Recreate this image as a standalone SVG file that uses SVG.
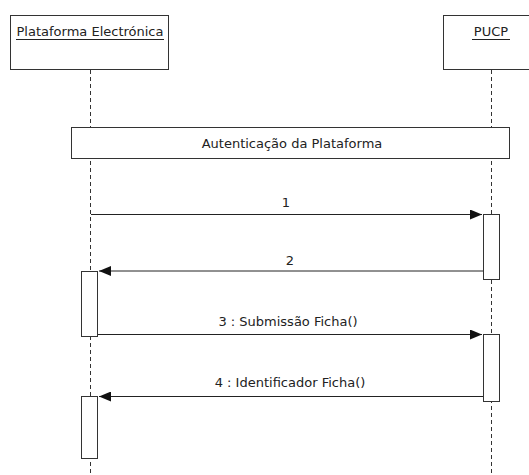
<svg xmlns="http://www.w3.org/2000/svg" width="529" height="475" viewBox="0 0 529 475">
<style>
.box{fill:#fff;stroke:#333;stroke-width:1}
.life{stroke:#333;stroke-width:1;stroke-dasharray:4,3;fill:none}
.msg{stroke:#222;stroke-width:1;fill:none}
.ul{stroke:#222;stroke-width:1}
text{font-family:"DejaVu Sans","Liberation Sans",sans-serif;font-size:13px;fill:#222;text-anchor:middle}
</style>
<defs>
<marker id="ah" viewBox="0 0 12 10" refX="12" refY="5" markerWidth="12" markerHeight="10" markerUnits="userSpaceOnUse" orient="auto">
<path d="M0,0 L12,5 L0,10 Z" fill="#111"/>
</marker>
</defs>
<rect width="529" height="475" fill="#fff"/>
<g id="lifelines">
<line class="life" x1="90.5" y1="70" x2="90.5" y2="475"/>
<line class="life" x1="491.5" y1="70" x2="491.5" y2="475"/>
</g>
<g id="plataforma">
<rect class="box" x="10.5" y="15.5" width="158" height="54"/>
<text x="90" y="36">Plataforma Electrónica</text>
<line class="ul" x1="16" y1="39.5" x2="164" y2="39.5"/>
</g>
<g id="pucp">
<rect class="box" x="443.5" y="15.5" width="96" height="54"/>
<text x="491" y="36">PUCP</text>
<line class="ul" x1="472" y1="39.5" x2="510" y2="39.5"/>
</g>
<g id="autenticacao">
<rect class="box" x="71.5" y="127.5" width="438" height="31"/>
<text x="292" y="147.5">Autenticação da Plataforma</text>
</g>
<g id="activations">
<rect class="box" x="483.5" y="214.5" width="16" height="65"/>
<rect class="box" x="81.5" y="271.5" width="16" height="65"/>
<rect class="box" x="483.5" y="334.5" width="16" height="67"/>
<rect class="box" x="81.5" y="396.5" width="16" height="62"/>
</g>
<g id="connectors">
<line class="msg" x1="91" y1="214.5" x2="482" y2="214.5" marker-end="url(#ah)"/>
<line class="msg" x1="483" y1="271" x2="99" y2="271" marker-end="url(#ah)"/>
<line class="msg" x1="98" y1="334.5" x2="482" y2="334.5" marker-end="url(#ah)"/>
<line class="msg" x1="483" y1="396.5" x2="99" y2="396.5" marker-end="url(#ah)"/>
</g>
<g id="labels">
<text x="286" y="207">1</text>
<text x="290" y="265">2</text>
<text x="288" y="326">3 : Submissão Ficha()</text>
<text x="290" y="387">4 : Identificador Ficha()</text>
</g>
</svg>
